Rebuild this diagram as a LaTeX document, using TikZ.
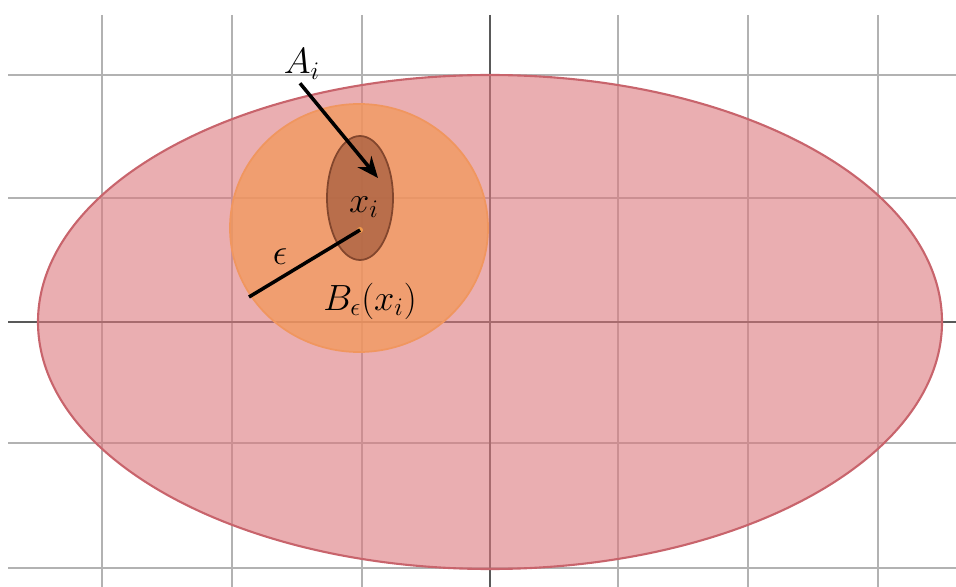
\documentclass[tikz,border=0pt]{standalone}
\usepackage{amsmath,amssymb}
\usepackage{xcolor}
\usepackage{tikz}
\usetikzlibrary{arrows.meta,positioning,calc}

\definecolor{regionfill}{RGB}{220,120,125}
\definecolor{regionline}{RGB}{200,100,108}
\definecolor{ballfill}{RGB}{242,153,91}
\definecolor{ballline}{RGB}{240,150,95}
\definecolor{setfill}{RGB}{167,94,63}
\definecolor{setline}{RGB}{130,70,45}

\begin{document}
\begin{tikzpicture}[x=0.02cm, y=-0.02cm,
		gridline/.style={draw=black!30, line width=0.8pt},
		axisline/.style={draw=black!65, line width=0.9pt},
		lbl/.style={font=\fontsize{22}{26}\selectfont, inner sep=1pt}]
		\useasboundingbox (0,0) rectangle (956,587);

		% grid
		\foreach \gx in {102,232,362,618,748,878}
			\draw[gridline] (\gx,15) -- (\gx,587);
		\foreach \gy in {75,198,443,568}
			\draw[gridline] (8,\gy) -- (956,\gy);
		\draw[axisline] (490,15) -- (490,587);
		\draw[axisline] (8,322) -- (956,322);

		% sets
		\draw[regionline, line width=1.2pt, fill=regionfill, fill opacity=0.6] (490,322) ellipse [x radius=452, y radius=247];
		\draw[ballline, line width=1pt, fill=ballfill, fill opacity=0.75] (359,228) ellipse [x radius=129, y radius=124];
		\draw[setline, line width=1pt, fill=setfill, fill opacity=0.75] (360,198) ellipse [x radius=33, y radius=62];
		\fill[orange!70, opacity=0.8] (360,230) circle [radius=3];

		\coordinate (xi) at (360,230);
		\coordinate (rim) at (249,297);
		\coordinate (tip) at (378,178);

		\node[lbl] (Ai) at (302,64) {$A_i$};
		\node[lbl] (xlab) at (364,207) {$x_i$};
		\node[lbl] (eps) at (280,257) {$\epsilon$};
		\node[lbl] (ball) at (370,301) {$B_\epsilon(x_i)$};

		\draw[line width=2pt, -{Stealth[length=12pt, width=10pt]}] (Ai.south) ++(-2,2) -- (tip);
		\draw[line width=2pt] (xi) -- (rim);
	\end{tikzpicture}
\end{document}
